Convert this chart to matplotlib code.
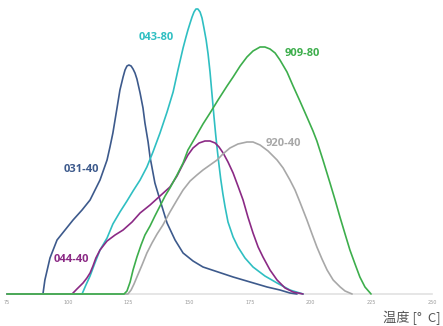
import matplotlib
matplotlib.use("Agg")
import matplotlib.pyplot as plt

# ---------------- data (temperature in °C, relative intensity) ----------------
x_031 = [75, 89.8, 90.6, 92.7, 95.6, 98.9, 102.2, 105.9, 109.2, 113.3, 116.2, 117.4, 118.6,
         120.3, 121.5, 122.8, 123.6, 124.4, 125.2, 126.1, 126.9, 127.7, 128.5, 129.8, 131.0,
         131.8, 133.1, 133.9, 135.9, 138.0, 140.9, 144.2, 147.5, 151.6, 155.7, 161.9, 168.1,
         175.1, 182.1, 187.4, 191.5, 194.4]
y_031 = [0, 0, 14, 36, 54, 64, 74, 84, 94, 114, 134, 147, 161,
         186, 204, 217, 224, 228, 229, 228, 225, 221, 215, 201, 186,
         171, 152, 137, 111, 94, 71, 54, 41, 33, 27, 22, 17,
         12, 7, 4, 1, 0]

x_043 = [75, 105.9, 107.5, 109.2, 111.2, 113.3, 116.2, 118.6, 121.5, 124.4, 126.9, 129.8, 132.6,
         135.1, 138.0, 140.9, 143.4, 145.4, 147.5, 148.7, 149.5, 150.4, 151.2, 152.0, 152.8,
         153.6, 154.5, 155.3, 156.1, 157.0, 157.8, 158.6, 159.4, 160.2, 160.9, 161.5, 162.2,
         163.0, 163.9, 164.8, 166.0, 168.1, 170.1, 173.0, 176.3, 181.2, 186.2, 191.5, 196.9]
y_043 = [0, 0, 9, 18, 31, 44, 56, 70, 82, 93, 103, 114, 127,
         142, 161, 182, 202, 224, 246, 257, 264, 271, 277, 282, 285,
         285, 282, 276, 266, 254, 240, 222, 200, 178, 160, 146, 131,
         115, 100, 87, 72, 57, 47, 36, 27, 18, 11, 4, 0]

x_044 = [75, 101.8, 103.8, 106.3, 107.9, 109.2, 110.4, 111.6, 113.3, 114.9, 116.2, 119.5, 122.8,
         126.5, 129.8, 133.9, 138.0, 142.1, 145.0, 147.5, 149.5, 151.6, 154.1, 156.5, 158.6,
         160.7, 162.3, 164.0, 166.0, 168.1, 170.1, 172.2, 174.2, 176.3, 178.4, 180.4, 183.3,
         186.2, 189.5, 192.8, 196.9]
y_044 = [0, 0, 5, 11, 16, 21, 28, 36, 44, 49, 53, 59, 64,
         72, 81, 89, 98, 107, 118, 130, 139, 146, 151, 153, 153,
         151, 147, 141, 132, 121, 108, 94, 77, 61, 47, 37, 24,
         14, 6, 2, 0]

x_909 = [75, 123.2, 124.4, 125.7, 126.9, 128.5, 130.2, 131.8, 133.9, 135.9, 138.0, 140.1, 142.1,
         145.0, 147.5, 149.5, 152.4, 155.7, 158.6, 161.9, 165.6, 168.1, 171.0, 173.8, 176.3,
         179.2, 181.2, 183.3, 185.4, 187.4, 190.3, 192.8, 195.6, 198.5, 201.0, 202.6, 205.1,
         208.0, 210.1, 212.1, 214.2, 216.2, 218.3, 220.3, 222.4, 224.9]
y_909 = [0, 0, 3, 12, 24, 37, 49, 59, 68, 78, 88, 98, 106,
         119, 131, 144, 156, 170, 181, 194, 208, 217, 228, 237, 243,
         247, 247, 245, 241, 234, 222, 208, 193, 177, 163, 153, 134,
         111, 94, 77, 60, 44, 30, 17, 7, 0]

x_920 = [75, 124.8, 126.1, 127.3, 128.5, 130.6, 132.6, 134.7, 136.8, 139.2, 142.1, 145.0, 147.5,
         150.4, 153.2, 155.7, 158.6, 161.5, 163.9, 166.8, 170.1, 173.8, 176.3, 179.2, 182.5,
         186.2, 188.7, 191.5, 193.6, 195.6, 198.5, 200.6, 202.6, 204.7, 206.8, 209.3, 212.2,
         214.2, 217.1]
y_920 = [0, 0, 4, 10, 17, 29, 41, 51, 60, 69, 82, 94, 104,
         113, 119, 124, 129, 134, 140, 146, 150, 152, 152, 149, 143,
         134, 126, 114, 104, 92, 74, 60, 47, 35, 24, 14, 7,
         3, 0]

ticks = [75, 100, 125, 150, 175, 200, 225, 250]

series = [
    ("031-40", x_031, y_031, "#3d5a8c", (81, 170)),
    ("043-80", x_043, y_043, "#2fbfc2", (156, 38)),
    ("044-40", x_044, y_044, "#8b2a85", (71, 259)),
    ("920-40", x_920, y_920, "#a8a8a8", (283, 143)),
    ("909-80", x_909, y_909, "#3dae4c", (302, 53)),
]

W, H = 443, 326
fig = plt.figure(figsize=(W / 100, H / 100), dpi=100)
ax = fig.add_axes([7 / W, 32 / H, 425 / W, 294 / H])
ax.set_xlim(75, 250)
ax.set_ylim(0, 294)

for name, xs, ys, col, (lx, ly) in series:
    ax.plot(xs, ys, color=col, lw=1.2, solid_capstyle="round",
            solid_joinstyle="round", clip_on=False)
    fig.text(lx / W, 1 - ly / H, name, color=col, fontsize=8, fontweight="bold",
             family=["Open Sans", "DejaVu Sans"], ha="center", va="center")

for s in ("top", "left", "right"):
    ax.spines[s].set_visible(False)
ax.spines["bottom"].set_color("#e2e2e2")
ax.spines["bottom"].set_linewidth(1.2)
ax.spines["bottom"].set_zorder(0)
ax.set_yticks([])
ax.set_xticks(ticks)
ax.set_xticklabels([str(t) for t in ticks])
ax.tick_params(axis="x", length=0, pad=4, labelsize=3.5, labelcolor="#9a9a9a")

fig.text(441 / W, 1 - 318 / H, "温度 [°  C]", color="#555555", fontsize=9.5,
         family=["Noto Sans CJK SC", "DejaVu Sans"], ha="right", va="center")

fig.savefig("out.png", dpi=100)
